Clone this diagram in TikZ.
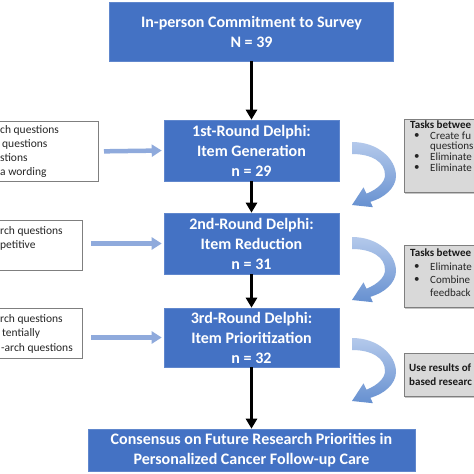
\documentclass[tikz,border=0pt]{standalone}
\usepackage{fontspec}
\setmainfont{Carlito}
\usetikzlibrary{arrows.meta,shadows}
\definecolor{boxblue}{HTML}{4472C4}
\definecolor{lightarrow}{HTML}{8FAADC}
\definecolor{graybox}{HTML}{D9D9D9}
\definecolor{grayline}{HTML}{7F7F7F}
\definecolor{curvetop}{HTML}{B4C9EB}
\definecolor{curvebot}{HTML}{6690D0}
\tikzset{
  bluebox/.style={draw=boxblue!85!white, fill=boxblue, text=white,
    font=\fontsize{16}{20}\selectfont\bfseries, align=center, inner sep=0pt, line width=0.6pt},
  whitebox/.style={draw=grayline, fill=white, line width=0.8pt, inner sep=0pt},
  taskbox/.style={draw=grayline, fill=graybox, line width=0.8pt, inner sep=0pt,
    drop shadow={shadow xshift=1pt, shadow yshift=-1.2pt, opacity=0.45}},
  ltext/.style={font=\fontsize{11.5}{14}\selectfont, inner sep=0pt, anchor=west, text=black!85},
  ttext/.style={font=\fontsize{11}{12}\selectfont, inner sep=0pt, anchor=west, text=black!85},
  btext/.style={font=\fontsize{11}{12}\selectfont\bfseries, inner sep=0pt, anchor=west, text=black!90},
  flow/.style={-{Triangle[length=10pt,width=11pt]}, line width=3pt, black},
  feed/.style={-{Triangle[length=10pt,width=12pt]}, line width=4.5pt, lightarrow},
  curvearrow/.pic={
    \path[top color=curvetop, bottom color=curvebot]
      (0,0) .. controls (26,0) and (44,17) .. (44,34)
      .. controls (44,46) and (32,56) .. (18.4,59.8)
      -- (20.9,65.2) -- (0,63) -- (11.5,45.4) -- (14.5,51.7)
      .. controls (26,47) and (33,40) .. (33,33)
      .. controls (33,20) and (20,12) .. (0,12) -- cycle;
  }
}
\begin{document}
\begin{tikzpicture}[x=1pt,y=-1pt]
\useasboundingbox (0,0) rectangle (474,474);
\clip (0,0) rectangle (474,474);
\fill[white] (0,0) rectangle (474,474);

% main flow boxes
\node[bluebox, minimum width=284pt, minimum height=59pt] (top) at (251.5,31.5)
  {In-person Commitment to Survey\\N = 39};
\node[bluebox, minimum width=175pt, minimum height=61pt] (b1) at (251.5,150.5)
  {1st-Round Delphi:\\Item Generation\\n = 29};
\node[bluebox, minimum width=175pt, minimum height=61pt] (b2) at (251.5,243.5)
  {2nd-Round Delphi:\\Item Reduction\\n = 31};
\node[bluebox, minimum width=175pt, minimum height=59pt] (b3) at (251.5,337.5)
  {3rd-Round Delphi:\\Item Prioritization\\n = 32};
\node[bluebox, minimum width=327pt, minimum height=42pt] (bot) at (251.5,450)
  {Consensus on Future Research Priorities in\\Personalized Cancer Follow-up Care};

\draw[flow] (top.south) -- (b1.north);
\draw[flow] (b1.south) -- (b2.north);
\draw[flow] (b2.south) -- (b3.north);
\draw[flow] (b3.south) -- (bot.north);

% left boxes
\node[whitebox, anchor=north east, minimum width=140pt, minimum height=60pt] (L1) at (99,121) {};
\node[ltext] (l1a) at (0,130) {ch questions};
\node[ltext] (l1b) at (2,144) {questions};
\node[ltext] (l1c) at (0,158) {stions};
\node[ltext] (l1d) at (0,172) {a wording};

\node[whitebox, anchor=north east, minimum width=140pt, minimum height=50pt] (L2) at (83,220) {};
\node[ltext] (l2a) at (0,231) {rch questions};
\node[ltext] (l2b) at (0,245) {petitive};

\node[whitebox, anchor=north east, minimum width=140pt, minimum height=50pt] (L3) at (83,308) {};
\node[ltext] (l3a) at (0,319) {rch questions};
\node[ltext] (l3b) at (2,333) {tentially};
\node[ltext] (l3c) at (1,348) {-arch questions};

\draw[feed, shorten <=5pt, shorten >=2pt] (L1.east) -- (b1.west);
\draw[feed, shorten <=8pt, shorten >=2pt] (L2.east |- b2.west) -- (b2.west);
\draw[feed, shorten <=8pt, shorten >=2pt] (L3.east |- b3.west) -- (b3.west);

% right task boxes
\node[taskbox, anchor=north west, minimum width=110pt, minimum height=73pt] (R1) at (404,119) {};
\node[btext] (r1t) at (410,124.5) {Tasks betwee};
\node[ttext] (r1b1) at (414,136) {•};
\node[ttext] (r1x1) at (430,136) {Create fu};
\node[ttext] (r1x2) at (430,146.5) {questions};
\node[ttext] (r1b2) at (414,157) {•};
\node[ttext] (r1x3) at (430,157) {Eliminate};
\node[ttext] (r1b3) at (414,167.5) {•};
\node[ttext] (r1x4) at (430,167.5) {Eliminate};

\node[taskbox, anchor=north west, minimum width=110pt, minimum height=62pt] (R2) at (404,245) {};
\node[btext] (r2t) at (410,253) {Tasks betwee};
\node[ttext] (r2b1) at (414,267) {•};
\node[ttext] (r2x1) at (430,267) {Eliminate};
\node[ttext] (r2b2) at (414,280) {•};
\node[ttext] (r2x2) at (430,280) {Combine};
\node[ttext] (r2x3) at (430,293) {feedback};

\node[taskbox, anchor=north west, minimum width=110pt, minimum height=43pt] (R3) at (404,353) {};
\node[btext] (r3a) at (409,368) {Use results of};
\node[btext] (r3b) at (409,382) {based researc};

% curved arrows
\pic (c1) at (352,142) {curvearrow};
\pic (c2) at (352,237) {curvearrow};
\pic (c3) at (352,338) {curvearrow};
\end{tikzpicture}
\end{document}
